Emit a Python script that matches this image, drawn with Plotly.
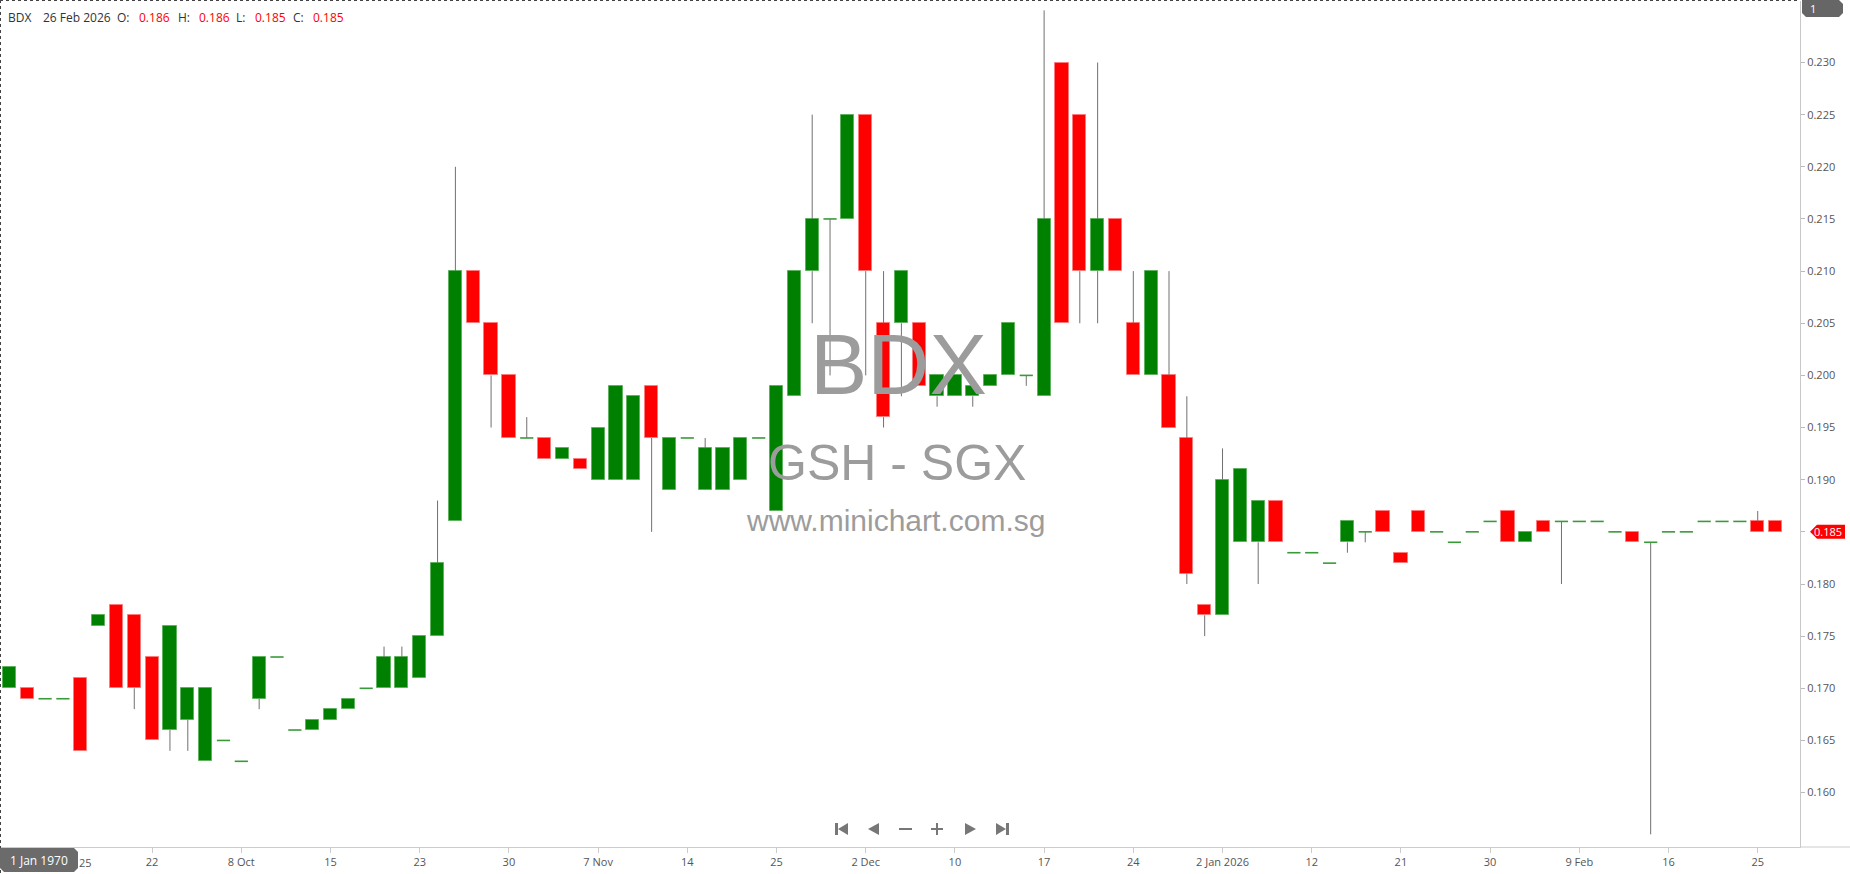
import plotly.graph_objects as go

# ---------------- data ----------------
opens = [0.170, 0.170, 0.169, 0.169, 0.171, 0.176, 0.178, 0.177, 0.173, 0.166,
         0.167, 0.163, 0.165, 0.163, 0.169, 0.173, 0.166, 0.166, 0.167, 0.168,
         0.170, 0.170, 0.170, 0.171, 0.175, 0.186, 0.210, 0.205, 0.200, 0.194,
         0.194, 0.192, 0.192, 0.190, 0.190, 0.190, 0.199, 0.189, 0.194, 0.189,
         0.189, 0.190, 0.194, 0.187, 0.198, 0.210, 0.215, 0.215, 0.225, 0.205,
         0.205, 0.205, 0.198, 0.198, 0.198, 0.199, 0.200, 0.200, 0.198, 0.230,
         0.225, 0.210, 0.215, 0.205, 0.200, 0.200, 0.194, 0.178, 0.177, 0.184,
         0.184, 0.188, 0.183, 0.183, 0.182, 0.184, 0.185, 0.187, 0.183, 0.187,
         0.185, 0.184, 0.185, 0.186, 0.187, 0.184, 0.186, 0.186, 0.186, 0.186,
         0.185, 0.185, 0.184, 0.185, 0.185, 0.186, 0.186, 0.186, 0.186, 0.186]
highs = [0.172, 0.170, 0.169, 0.169, 0.171, 0.177, 0.178, 0.177, 0.173, 0.176,
         0.170, 0.170, 0.165, 0.163, 0.173, 0.173, 0.166, 0.167, 0.168, 0.169,
         0.170, 0.174, 0.174, 0.175, 0.188, 0.220, 0.210, 0.205, 0.200, 0.196,
         0.194, 0.193, 0.192, 0.195, 0.199, 0.198, 0.199, 0.194, 0.194, 0.194,
         0.193, 0.194, 0.194, 0.199, 0.210, 0.225, 0.215, 0.225, 0.225, 0.210,
         0.210, 0.205, 0.200, 0.200, 0.199, 0.200, 0.205, 0.200, 0.235, 0.230,
         0.225, 0.230, 0.215, 0.210, 0.210, 0.210, 0.198, 0.178, 0.193, 0.191,
         0.188, 0.188, 0.183, 0.183, 0.182, 0.186, 0.185, 0.187, 0.183, 0.187,
         0.185, 0.184, 0.185, 0.186, 0.187, 0.185, 0.186, 0.186, 0.186, 0.186,
         0.185, 0.185, 0.184, 0.185, 0.185, 0.186, 0.186, 0.186, 0.187, 0.186]
lows = [0.170, 0.169, 0.169, 0.169, 0.164, 0.176, 0.170, 0.168, 0.165, 0.164,
        0.164, 0.163, 0.165, 0.163, 0.168, 0.173, 0.166, 0.166, 0.167, 0.168,
        0.170, 0.170, 0.170, 0.171, 0.175, 0.186, 0.205, 0.195, 0.194, 0.194,
        0.192, 0.192, 0.191, 0.190, 0.190, 0.190, 0.185, 0.189, 0.194, 0.189,
        0.189, 0.190, 0.194, 0.187, 0.198, 0.205, 0.200, 0.215, 0.200, 0.195,
        0.198, 0.199, 0.197, 0.198, 0.197, 0.199, 0.200, 0.199, 0.198, 0.205,
        0.205, 0.205, 0.210, 0.200, 0.200, 0.195, 0.180, 0.175, 0.177, 0.184,
        0.180, 0.184, 0.183, 0.183, 0.182, 0.183, 0.184, 0.185, 0.182, 0.185,
        0.185, 0.184, 0.185, 0.186, 0.184, 0.184, 0.185, 0.180, 0.186, 0.186,
        0.185, 0.184, 0.156, 0.185, 0.185, 0.186, 0.186, 0.186, 0.185, 0.185]
closes = [0.172, 0.169, 0.169, 0.169, 0.164, 0.177, 0.170, 0.170, 0.165, 0.176,
          0.170, 0.170, 0.165, 0.163, 0.173, 0.173, 0.166, 0.167, 0.168, 0.169,
          0.170, 0.173, 0.173, 0.175, 0.182, 0.210, 0.205, 0.200, 0.194, 0.194,
          0.192, 0.193, 0.191, 0.195, 0.199, 0.198, 0.194, 0.194, 0.194, 0.193,
          0.193, 0.194, 0.194, 0.199, 0.210, 0.215, 0.215, 0.225, 0.210, 0.196,
          0.210, 0.199, 0.200, 0.200, 0.199, 0.200, 0.205, 0.200, 0.215, 0.205,
          0.210, 0.215, 0.210, 0.200, 0.210, 0.195, 0.181, 0.177, 0.190, 0.191,
          0.188, 0.184, 0.183, 0.183, 0.182, 0.186, 0.185, 0.185, 0.182, 0.185,
          0.185, 0.184, 0.185, 0.186, 0.184, 0.185, 0.185, 0.186, 0.186, 0.186,
          0.185, 0.184, 0.184, 0.185, 0.185, 0.186, 0.186, 0.186, 0.185, 0.185]

tick_positions = [3, 8, 13, 18, 23, 28, 33, 38, 43, 48, 53, 58, 63, 68, 73, 78, 83, 88, 93, 98]
tick_labels = ["25", "22", "8 Oct", "15", "23", "30", "7 Nov", "14", "25", "2 Dec",
               "10", "17", "24", "2 Jan 2026", "12", "21", "30", "9 Feb", "16", "25"]
price_ticks = [0.160, 0.165, 0.170, 0.175, 0.180, 0.185, 0.190, 0.195, 0.200,
               0.205, 0.210, 0.215, 0.220, 0.225, 0.230]

symbol = "BDX"
last_date = "26 Feb 2026"
exchange_line = "GSH - SGX"
site = "www.minichart.com.sg"

# ---------------- geometry ----------------
W, H = 1850, 874
ML, MR, MT, MB = 1, 50, 1, 27
PW, PH = W - ML - MR, H - MT - MB


def pxx(px):
    return (px - ML) / PW


def pxy(py):
    return (MT + PH - py) / PH


n = len(opens)
xs = list(range(n))
BODY_W = 0.74

GREEN = "#008000"
RED = "#ff0000"

fig = go.Figure()

up = [i for i in xs if round(closes[i] - opens[i], 4) > 0]
down = [i for i in xs if round(closes[i] - opens[i], 4) < 0]
doji = [i for i in xs if round(closes[i] - opens[i], 4) == 0]

fig.add_trace(go.Bar(x=up, base=[opens[i] for i in up],
                     y=[closes[i] - opens[i] for i in up], width=BODY_W,
                     marker=dict(color=GREEN, line=dict(color="#5fb35f", width=1)),
                     hoverinfo="skip", showlegend=False))
fig.add_trace(go.Bar(x=down, base=[closes[i] for i in down],
                     y=[opens[i] - closes[i] for i in down], width=BODY_W,
                     marker=dict(color=RED, line=dict(color="#ff7a7a", width=1)),
                     hoverinfo="skip", showlegend=False))

# wicks (upper and lower parts only, so they never cross a body)
wx, wy = [], []
for i in xs:
    top = max(opens[i], closes[i])
    bot = min(opens[i], closes[i])
    if highs[i] > top:
        wx += [i, i, None]
        wy += [top, highs[i], None]
    if lows[i] < bot:
        wx += [i, i, None]
        wy += [lows[i], bot, None]
fig.add_trace(go.Scatter(x=wx, y=wy, mode="lines",
                         line=dict(color="#707070", width=1),
                         hoverinfo="skip", showlegend=False))

dx, dy = [], []
for i in doji:
    dx += [i - BODY_W / 2, i + BODY_W / 2, None]
    dy += [closes[i], closes[i], None]
fig.add_trace(go.Scatter(x=dx, y=dy, mode="lines",
                         line=dict(color="#3a9a3a", width=1.6),
                         hoverinfo="skip", showlegend=False))

# ---------------- axes ----------------
ymax = 0.230 + (62.5 - MT) * 0.005 / 52.15
ymin = 0.230 - (MT + PH - 62.5) * 0.005 / 52.15
xmin = (ML - 9.4) / 17.84
xmax = (ML + PW - 9.4) / 17.84

last_close = closes[-1]

fig.update_layout(
    width=W, height=H,
    margin=dict(l=ML, r=MR, t=MT, b=MB),
    paper_bgcolor="white", plot_bgcolor="white",
    barmode="overlay", bargap=0, showlegend=False,
    font=dict(family="Open Sans", size=11, color="#555555"),
    xaxis=dict(range=[xmin, xmax], showgrid=False, zeroline=False,
               showline=True, linecolor="#cccccc", linewidth=1,
               tickmode="array", tickvals=tick_positions,
               ticktext=["" if k == 0 else t for k, t in enumerate(tick_labels)],
               ticks="outside", ticklen=5, tickcolor="#cccccc",
               tickfont=dict(family="Open Sans", size=11, color="#555555"),
               fixedrange=True),
    yaxis=dict(range=[ymin, ymax], side="right", showgrid=False, zeroline=False,
               showline=True, linecolor="#c8c8c8", linewidth=1,
               tickmode="array", tickvals=price_ticks,
               ticktext=["" if abs(v - last_close) < 1e-9 else f"{v:.3f}"
                         for v in price_ticks],
               ticks="outside", ticklen=4, tickcolor="#bbbbbb",
               tickfont=dict(family="Open Sans", size=11, color="#555555"),
               fixedrange=True),
)

shapes = []
# dashed frame (top and left)
shapes.append(dict(type="line", xref="paper", yref="paper",
                   x0=pxx(0.5), x1=pxx(0.5), y0=pxy(0), y1=pxy(H),
                   line=dict(color="#444444", width=1, dash="dot")))
shapes.append(dict(type="line", xref="paper", yref="paper",
                   x0=pxx(0), x1=pxx(1800), y0=pxy(0.5), y1=pxy(0.5),
                   line=dict(color="#444444", width=1, dash="dot")))
# x-axis line continuing under the price scale
shapes.append(dict(type="line", xref="paper", yref="paper",
                   x0=pxx(1800), x1=pxx(W), y0=pxy(847), y1=pxy(847),
                   line=dict(color="#cccccc", width=1)))


def poly(points, color):
    p = "M " + " L ".join(f"{pxx(a)},{pxy(b)}" for a, b in points) + " Z"
    return dict(type="path", xref="paper", yref="paper", path=p,
                fillcolor=color, line=dict(width=0), layer="above")


# top-right "1" badge
shapes.append(poly([(1802, 0), (1839, 0), (1843, 4), (1843, 13), (1839, 17),
                    (1806, 17), (1802, 13)], "#666666"))
# bottom-left date badge
shapes.append(poly([(0, 848), (74, 848), (78, 852), (78, 868), (74, 872),
                    (4, 872), (0, 868)], "#6b6b6b"))
# last price arrow badge
ylp = 62.5 + (0.230 - last_close) / 0.005 * 52.15
shapes.append(poly([(1810, ylp), (1817, ylp - 7), (1845, ylp - 7),
                    (1845, ylp + 7), (1817, ylp + 7)], "#ff0000"))

# navigation icons
NAV = "#777777"
cy = 829
shapes.append(poly([(835, cy - 6), (838, cy - 6), (838, cy + 6), (835, cy + 6)], NAV))
shapes.append(poly([(848, cy - 6), (848, cy + 6), (838, cy)], NAV))
shapes.append(poly([(879, cy - 6), (879, cy + 6), (868, cy)], NAV))
shapes.append(poly([(899, cy - 1), (912, cy - 1), (912, cy + 1), (899, cy + 1)], NAV))
shapes.append(poly([(931, cy - 1), (943, cy - 1), (943, cy + 1), (931, cy + 1)], NAV))
shapes.append(poly([(936, cy - 6), (938, cy - 6), (938, cy + 6), (936, cy + 6)], NAV))
shapes.append(poly([(965, cy - 6), (965, cy + 6), (976, cy)], NAV))
shapes.append(poly([(996, cy - 6), (996, cy + 6), (1006, cy)], NAV))
shapes.append(poly([(1006, cy - 6), (1009, cy - 6), (1009, cy + 6), (1006, cy + 6)], NAV))

fig.update_layout(shapes=shapes)

ann = []


def text(px, py, s, size, color, anchor="left", family="Open Sans"):
    ann.append(dict(xref="paper", yref="paper", x=pxx(px), y=pxy(py), text=s,
                    showarrow=False, xanchor=anchor, yanchor="middle",
                    font=dict(family=family, size=size, color=color)))


# watermark
text(898, 364, symbol, 86, "#9c9c9c", "center", "Liberation Sans")
text(897, 463, exchange_line, 50, "#9c9c9c", "center", "Liberation Sans")
text(895, 520, site, 30, "#9c9c9c", "center", "Liberation Sans")

# header line
o, h, l, c = opens[-1], highs[-1], lows[-1], closes[-1]
HY = 17
text(6, HY, symbol, 12, "#333333")
text(41, HY, last_date, 12, "#333333")
text(115, HY, "O:", 12, "#333333")
text(137, HY, f"{o:.3f}", 12, "#ff0000")
text(176, HY, "H:", 12, "#333333")
text(197, HY, f"{h:.3f}", 12, "#ff0000")
text(234, HY, "L:", 12, "#333333")
text(253, HY, f"{l:.3f}", 12, "#ff0000")
text(291, HY, "C:", 12, "#333333")
text(311, HY, f"{c:.3f}", 12, "#ff0000")

# badges' texts
text(1808, 8.5, "1", 11, "white")
text(1828, ylp, f"{last_close:.3f}", 11, "white", "center")
text(39, 860, "1 Jan 1970", 12, "white", "center")

# first x label, pushed right of the date badge
ann.append(dict(xref="x", yref="paper", x=tick_positions[0], y=pxy(862),
                text=tick_labels[0], showarrow=False, xanchor="center",
                yanchor="middle", xshift=23,
                font=dict(family="Open Sans", size=11, color="#555555")))

fig.update_layout(annotations=ann)

fig.write_html("out.html", include_plotlyjs=True,
               config={"displayModeBar": False},
               post_script="document.body.style.margin='0';document.body.style.overflow='hidden';")
